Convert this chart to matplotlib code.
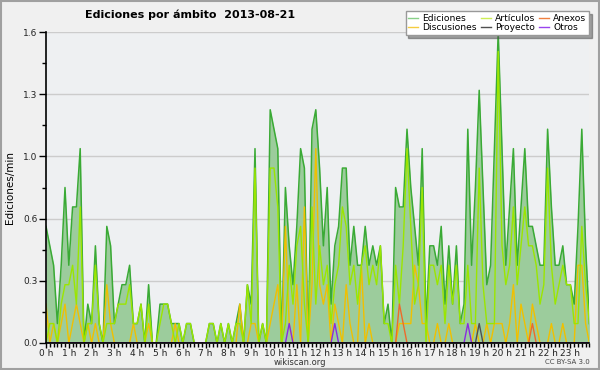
import numpy as np
import matplotlib
matplotlib.use("Agg")
import matplotlib.pyplot as plt
from matplotlib.lines import Line2D
from matplotlib.patches import Rectangle
import matplotlib.ticker as mticker

# ── Data: edits per minute, one value per 10-minute slot (144 slots) ──
ediciones = [
    0.6, 0.5, 0.4, 0.1, 0.4, 0.8, 0.4, 0.7, 0.7, 1.0,
    0.0, 0.2, 0.1, 0.5, 0.1, 0.0, 0.6, 0.5, 0.1, 0.2,
    0.3, 0.3, 0.4, 0.1, 0.1, 0.2, 0.0, 0.3, 0.0, 0.0,
    0.2, 0.2, 0.2, 0.1, 0.1, 0.1, 0.0, 0.1, 0.1, 0.0,
    0.0, 0.0, 0.0, 0.1, 0.1, 0.0, 0.1, 0.0, 0.1, 0.0,
    0.1, 0.2, 0.0, 0.3, 0.2, 1.0, 0.0, 0.1, 0.0, 1.2,
    1.1, 1.0, 0.0, 0.8, 0.5, 0.3, 0.6, 1.0, 0.9, 0.0,
    1.1, 1.2, 0.9, 0.5, 0.8, 0.2, 0.5, 0.6, 0.9, 0.9,
    0.4, 0.6, 0.4, 0.4, 0.6, 0.4, 0.5, 0.4, 0.5, 0.1,
    0.2, 0.0, 0.8, 0.7, 0.7, 1.1, 0.8, 0.6, 0.4, 1.0,
    0.1, 0.5, 0.5, 0.4, 0.6, 0.2, 0.5, 0.2, 0.5, 0.1,
    0.2, 1.1, 0.4, 0.8, 1.3, 0.8, 0.3, 0.4, 1.0, 1.6,
    1.0, 0.4, 0.7, 1.0, 0.4, 0.7, 1.0, 0.6, 0.6, 0.5,
    0.4, 0.4, 1.1, 0.7, 0.4, 0.4, 0.5, 0.3, 0.3, 0.2,
    0.6, 1.1, 0.5, 0.1,
]
articulos = [
    0.0, 0.1, 0.1, 0.0, 0.2, 0.3, 0.3, 0.4, 0.2, 0.7,
    0.0, 0.1, 0.1, 0.4, 0.1, 0.0, 0.1, 0.1, 0.1, 0.2,
    0.2, 0.2, 0.3, 0.1, 0.1, 0.2, 0.0, 0.2, 0.0, 0.0,
    0.1, 0.2, 0.2, 0.1, 0.0, 0.1, 0.0, 0.1, 0.1, 0.0,
    0.0, 0.0, 0.0, 0.1, 0.1, 0.0, 0.1, 0.0, 0.1, 0.0,
    0.1, 0.1, 0.0, 0.3, 0.1, 0.9, 0.0, 0.1, 0.0, 0.9,
    0.9, 0.7, 0.0, 0.1, 0.4, 0.2, 0.5, 0.6, 0.2, 0.0,
    0.7, 0.2, 0.5, 0.3, 0.4, 0.1, 0.3, 0.4, 0.7, 0.6,
    0.3, 0.4, 0.2, 0.4, 0.5, 0.3, 0.4, 0.3, 0.5, 0.1,
    0.1, 0.0, 0.4, 0.2, 0.5, 1.0, 0.6, 0.2, 0.3, 0.8,
    0.0, 0.4, 0.4, 0.3, 0.4, 0.1, 0.4, 0.2, 0.4, 0.1,
    0.1, 0.4, 0.1, 0.1, 0.9, 0.3, 0.1, 0.1, 0.1, 1.5,
    0.5, 0.3, 0.4, 0.7, 0.3, 0.5, 0.7, 0.5, 0.5, 0.4,
    0.2, 0.3, 0.9, 0.4, 0.2, 0.3, 0.4, 0.3, 0.3, 0.1,
    0.1, 0.6, 0.3, 0.1,
]
discusiones = [
    0.2, 0.0, 0.1, 0.0, 0.1, 0.2, 0.0, 0.1, 0.2, 0.1,
    0.0, 0.1, 0.0, 0.1, 0.0, 0.0, 0.3, 0.1, 0.0, 0.0,
    0.0, 0.0, 0.0, 0.1, 0.0, 0.0, 0.0, 0.1, 0.0, 0.0,
    0.0, 0.0, 0.0, 0.0, 0.1, 0.0, 0.0, 0.0, 0.0, 0.0,
    0.0, 0.0, 0.0, 0.0, 0.0, 0.0, 0.0, 0.0, 0.0, 0.0,
    0.0, 0.2, 0.0, 0.0, 0.1, 0.1, 0.0, 0.0, 0.0, 0.1,
    0.2, 0.3, 0.0, 0.6, 0.1, 0.0, 0.3, 0.0, 0.7, 0.0,
    0.3, 1.0, 0.3, 0.2, 0.3, 0.0, 0.2, 0.1, 0.0, 0.3,
    0.1, 0.0, 0.0, 0.4, 0.0, 0.1, 0.0, 0.0, 0.0, 0.0,
    0.0, 0.0, 0.0, 0.1, 0.1, 0.1, 0.1, 0.4, 0.3, 0.1,
    0.1, 0.0, 0.0, 0.1, 0.0, 0.0, 0.1, 0.0, 0.0, 0.0,
    0.0, 0.0, 0.0, 0.1, 0.0, 0.0, 0.1, 0.0, 0.1, 0.1,
    0.1, 0.0, 0.1, 0.3, 0.0, 0.2, 0.1, 0.0, 0.2, 0.1,
    0.0, 0.0, 0.0, 0.1, 0.0, 0.0, 0.1, 0.0, 0.0, 0.0,
    0.4, 0.4, 0.1, 0.0,
]
# sparse namespaces: slot index -> value (all other slots are zero)
anexos_slots   = {93: 0.2, 94: 0.1, 128: 0.1}
proyecto_slots = {114: 0.1}
otros_slots    = {64: 0.1, 76: 0.1, 111: 0.1}

hour_labels = [f"{h} h" for h in range(24)]

N = len(ediciones)
slots = np.arange(N)

def sparse_series(d):
    s = np.zeros(N)
    for k, v in d.items():
        s[k] = v
    return s

anexos   = sparse_series(anexos_slots)
proyecto = sparse_series(proyecto_slots)
otros    = sparse_series(otros_slots)

C_EDIC   = "#3aaa35"
C_FILL   = "#9ccc9c"
C_ART    = "#9be600"
C_DISC   = "#f0c000"
C_ANEX   = "#ee6a2a"
C_PROY   = "#505050"
C_OTROS  = "#8a2be2"

fig = plt.figure(figsize=(6, 3.7), dpi=100)
fig.patch.set_facecolor("#f0f0f0")
fig.patches.append(Rectangle((0.002, 0.003), 0.996, 0.994, transform=fig.transFigure,
                             fill=False, edgecolor="#a0a0a0", linewidth=1.5))

ax = fig.add_axes([46/600, 1-343/370, (589.4-46)/600, (343-32)/370])
ax.set_facecolor("#eef0f2")

ax.fill_between(slots, ediciones, 0, color=C_FILL, linewidth=0, zorder=2)
ax.plot(slots, ediciones, color=C_EDIC, lw=1.1, zorder=3)
ax.plot(slots, discusiones, color=C_DISC, lw=1.0, zorder=4)
ax.plot(slots, articulos, color=C_ART, lw=1.0, zorder=5)
ax.plot(slots, anexos, color=C_ANEX, lw=1.0, zorder=6)
ax.plot(slots, proyecto, color=C_PROY, lw=1.0, zorder=6)
ax.plot(slots, otros, color=C_OTROS, lw=1.0, zorder=6)

ax.set_xlim(0, N - 1)
ax.set_ylim(0, 1.6)

ax.set_xticks(np.arange(0, N, 6))
ax.set_xticklabels(hour_labels)
ax.set_xticks(slots, minor=True)
ax.set_yticks(np.arange(0, 1.61, 0.32))
ax.yaxis.set_major_formatter(mticker.FormatStrFormatter("%.1f"))
ax.set_yticks(np.arange(0.16, 1.6, 0.32), minor=True)

ax.tick_params(axis="both", which="major", direction="out", length=3.5,
               width=1, labelsize=6.5, pad=0.5, colors="black", labelcolor="#222222")
ax.tick_params(axis="both", which="minor", direction="out", length=3, width=1)
ax.tick_params(axis="y", which="major", length=5, pad=1)

ax.grid(axis="y", which="major", color="#cccccc", linewidth=1)
ax.set_axisbelow(True)
for side in ("top", "right"):
    ax.spines[side].set_visible(False)
for side in ("left", "bottom"):
    ax.spines[side].set_linewidth(1.2)
    ax.spines[side].set_zorder(10)

ax.set_ylabel("Ediciones/min", fontsize=7.5, labelpad=6)

fig.text(85/600, 1-15/370, "Ediciones por ámbito  2013-08-21", fontsize=8,
         fontweight="bold", ha="left", va="center")
fig.text(300/600, 1-362.5/370, "wikiscan.org", fontsize=6, ha="center", va="center",
         color="#333333")
fig.text(590/600, 1-362.5/370, "CC BY-SA 3.0", fontsize=5, ha="right", va="center",
         color="#444444")

handles = [
    Line2D([0], [0], color="#88d088", lw=1, label="Ediciones"),
    Line2D([0], [0], color="#f5cc40", lw=1, label="Discusiones"),
    Line2D([0], [0], color="#cdee55", lw=1, label="Artículos"),
    Line2D([0], [0], color=C_PROY, lw=1, label="Proyecto"),
    Line2D([0], [0], color="#f08040", lw=1, label="Anexos"),
    Line2D([0], [0], color="#9944ee", lw=1, label="Otros"),
]
leg = fig.legend(handles=handles, ncol=3, loc="upper right",
                 bbox_to_anchor=(589/600, 1-11/370), fontsize=6.6,
                 frameon=True, fancybox=False, shadow=True, borderpad=0.3,
                 labelspacing=0.05, handlelength=1.1, handletextpad=0.45,
                 columnspacing=0.4, borderaxespad=0)
leg.get_frame().set_edgecolor("#999999")
leg.get_frame().set_facecolor("white")
leg.get_frame().set_alpha(1)
leg.set_zorder(20)

fig.savefig("out.png", dpi=100, facecolor=fig.get_facecolor())
